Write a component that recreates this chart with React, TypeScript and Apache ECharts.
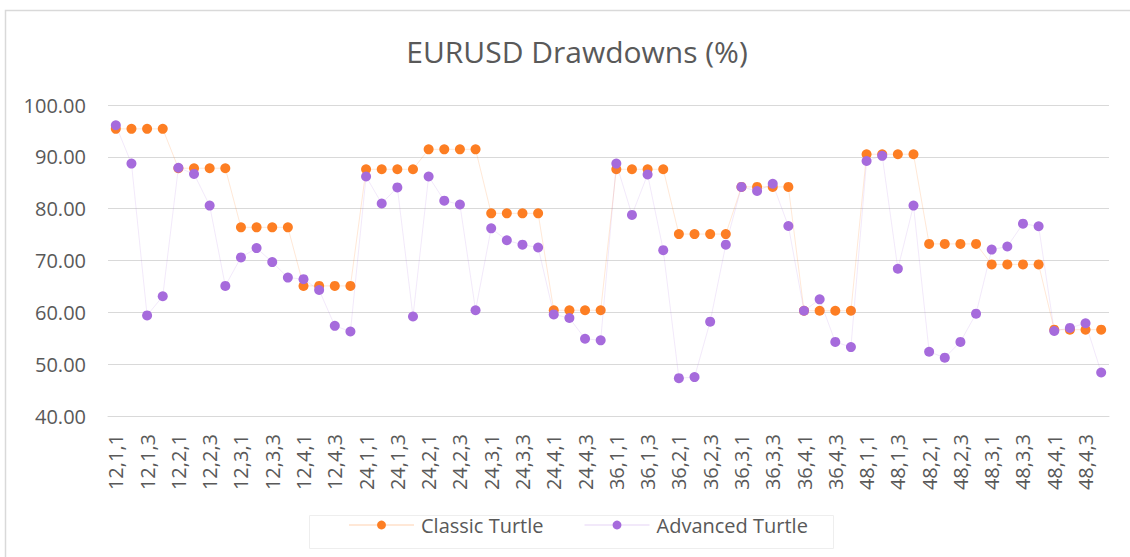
import React, { useEffect, useRef } from "react";
import * as echarts from "echarts";

const windows = ["12", "24", "36", "48"];
const groupsB = ["1", "2", "3", "4"];
const groupsC = ["1", "2", "3", "4"];
const categories: string[] = [];
windows.forEach((a) => groupsB.forEach((b) => groupsC.forEach((c) => categories.push(`${a},${b},${c}`))));

const classicTurtle = [
  95.4, 95.4, 95.4, 95.4, 87.8, 87.8, 87.8, 87.8,
  76.4, 76.4, 76.4, 76.4, 65.1, 65.1, 65.1, 65.1,
  87.6, 87.6, 87.6, 87.6, 91.45, 91.45, 91.45, 91.45,
  79.1, 79.1, 79.1, 79.1, 60.4, 60.4, 60.4, 60.4,
  87.6, 87.6, 87.6, 87.6, 75.1, 75.1, 75.1, 75.1,
  84.2, 84.2, 84.2, 84.2, 60.3, 60.3, 60.3, 60.3,
  90.5, 90.5, 90.5, 90.5, 73.2, 73.2, 73.2, 73.2,
  69.25, 69.25, 69.25, 69.25, 56.65, 56.65, 56.65, 56.65,
];

const advancedTurtle = [
  96.1, 88.7, 59.4, 63.1, 87.9, 86.7, 80.6, 65.1,
  70.6, 72.4, 69.7, 66.7, 66.4, 64.3, 57.4, 56.3,
  86.2, 81.0, 84.1, 59.2, 86.2, 81.55, 80.8, 60.4,
  76.2, 73.9, 73.05, 72.5, 59.6, 58.9, 54.9, 54.6,
  88.7, 78.8, 86.6, 72.0, 47.3, 47.5, 58.2, 73.05,
  84.2, 83.4, 84.8, 76.65, 60.3, 62.5, 54.3, 53.3,
  89.2, 90.2, 68.4, 80.6, 52.4, 51.25, 54.3, 59.75,
  72.1, 72.7, 77.1, 76.6, 56.4, 57.0, 57.9, 48.4,
];

const yTicks = { min: 40, max: 100, interval: 10 };

const ORANGE = "#FD7E23";
const PURPLE = "#A66BDC";
const TEXT = "#595959";
const FONT = "'Open Sans', sans-serif";

export default function App() {
  const ref = useRef<HTMLDivElement>(null);
  useEffect(() => {
    if (!ref.current) return;
    const chart = echarts.init(ref.current, null, { renderer: "svg" });
    chart.setOption({
      animation: false,
      backgroundColor: "#ffffff",
      textStyle: { fontFamily: FONT },
      title: {
        text: "EURUSD Drawdowns (%)",
        left: 572,
        top: 31,
        textAlign: "center",
        textStyle: { color: TEXT, fontSize: 30, fontWeight: "normal", fontFamily: FONT },
      },
      graphic: [
        {
          type: "rect",
          shape: { x: 5.5, y: 10.5, width: 1300, height: 700 },
          style: { fill: "none", stroke: "#d9d9d9", lineWidth: 1.5 },
          silent: true,
        },
        {
          type: "rect",
          shape: { x: 309.5, y: 515.5, width: 524, height: 33 },
          style: { fill: "none", stroke: "#eeeeee", lineWidth: 1 },
          silent: true,
        },
      ],
      legend: {
        left: 348,
        top: 515,
        itemWidth: 65,
        itemHeight: 11,
        itemGap: 40,
        padding: 0,
        textStyle: { color: TEXT, fontSize: 20, fontFamily: FONT, padding: [0, 0, 0, 2] },
        data: ["Classic Turtle", "Advanced Turtle"],
      },
      grid: { left: 108, right: 21, top: 105, bottom: 141, containLabel: false },
      xAxis: {
        type: "category",
        data: categories,
        boundaryGap: true,
        axisLine: { show: true, lineStyle: { color: "#d9d9d9", width: 1 } },
        axisTick: { show: false },
        axisLabel: {
          interval: 1,
          rotate: 90,
          margin: 18,
          color: TEXT,
          fontSize: 20,
          fontFamily: FONT,
        },
      },
      yAxis: {
        type: "value",
        min: yTicks.min,
        max: yTicks.max,
        interval: yTicks.interval,
        axisLine: { show: false },
        axisTick: { show: false },
        splitLine: { lineStyle: { color: "#d9d9d9", width: 1 } },
        axisLabel: {
          margin: 22,
          color: TEXT,
          fontSize: 20,
          fontFamily: FONT,
          formatter: (v: number) => v.toFixed(2),
        },
      },
      series: [
        {
          name: "Classic Turtle",
          type: "line",
          data: classicTurtle,
          symbol: "circle",
          symbolSize: 10,
          itemStyle: { color: ORANGE },
          lineStyle: { color: ORANGE, width: 1, opacity: 0.18 },
          z: 2,
        },
        {
          name: "Advanced Turtle",
          type: "line",
          data: advancedTurtle,
          symbol: "circle",
          symbolSize: 10,
          itemStyle: { color: PURPLE },
          lineStyle: { color: PURPLE, width: 1, opacity: 0.15 },
          z: 3,
        },
      ],
    });
    return () => chart.dispose();
  }, []);
  return (
    <div
      ref={ref}
      style={{ position: "fixed", left: 0, top: 0, width: 1130, height: 557 }}
    />
  );
}
